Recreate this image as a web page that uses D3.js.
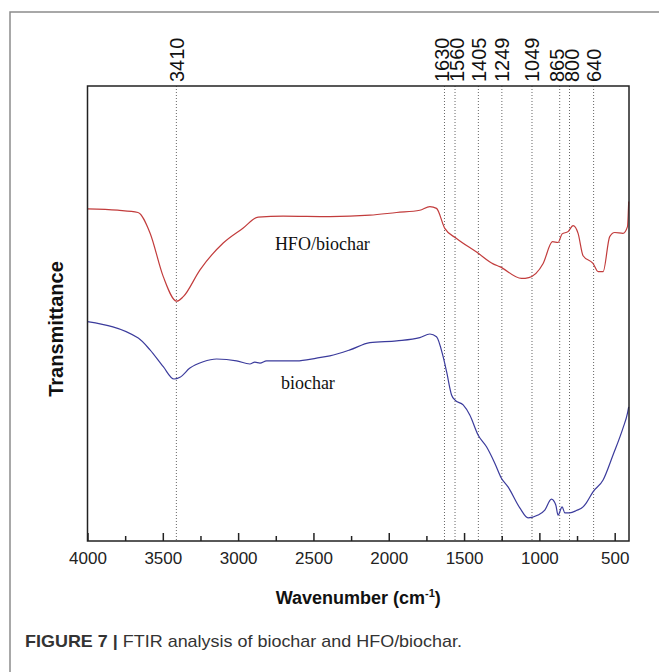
<!DOCTYPE html>
<html>
<head>
<meta charset="utf-8">
<script src="https://cdn.jsdelivr.net/npm/d3@7"></script>
<style>
  body { margin: 0; background: #fff; }
  svg { display: block; }
</style>
</head>
<body>
<svg id="chart" width="659" height="672"></svg>
<script>
// wavenumber (cm-1) and transmittance (a.u.)
const hfoWavenumber = [4000, 3800, 3665, 3585, 3497, 3408, 3364, 3253, 3099, 2966, 2867, 2701, 2391, 2125, 1948, 1794, 1727, 1683, 1628, 1550, 1417, 1307, 1263, 1119, 1070, 975, 913, 876, 849, 810, 776, 743, 710, 644, 610, 577, 533, 500, 445, 415, 407];
const hfoTransmittance = [73.0, 72.7, 72.2, 67.7, 58.1, 52.7, 53.7, 59.6, 65.5, 68.8, 71.2, 71.4, 71.3, 71.6, 72.2, 72.7, 73.5, 73.1, 68.7, 66.5, 63.5, 60.9, 60.3, 57.7, 57.9, 61.0, 65.8, 65.6, 67.5, 68.0, 69.3, 67.6, 62.7, 61.0, 59.2, 59.2, 66.9, 67.8, 67.6, 69.1, 74.6];

const biocharWavenumber = [4000, 3663, 3585, 3497, 3426, 3386, 3320, 3232, 3143, 3010, 2922, 2889, 2855, 2811, 2612, 2479, 2391, 2258, 2125, 1948, 1794, 1727, 1683, 1639, 1616, 1583, 1561, 1506, 1462, 1407, 1351, 1296, 1252, 1208, 1130, 1075, 1009, 964, 920, 891, 876, 849, 831, 798, 754, 710, 688, 644, 577, 511, 445, 415, 407];
const biocharTransmittance = [48.2, 44.6, 42.0, 38.3, 35.6, 36.0, 38.0, 39.4, 40.0, 39.6, 38.9, 39.3, 39.1, 39.6, 39.6, 40.2, 40.7, 42.0, 43.6, 44.0, 44.7, 45.5, 44.9, 40.5, 37.2, 32.1, 31.0, 29.9, 27.7, 23.3, 20.7, 17.1, 13.8, 11.9, 7.3, 5.1, 5.7, 6.8, 9.2, 7.9, 5.7, 7.5, 6.2, 6.2, 6.7, 7.5, 8.4, 10.8, 13.4, 18.9, 24.8, 28.1, 29.5];

const peaks = [3410, 1630, 1560, 1405, 1249, 1049, 865, 800, 640];
const majorTicks = [4000, 3500, 3000, 2500, 2000, 1500, 1000, 500];
const minorTicks = [3750, 3250, 2750, 2250, 1750, 1250, 750];

const seriesLabels = [
    { text: "HFO/biochar", wn: 2756, t: 64.0 },
    { text: "biochar", wn: 2716, t: 33.4 }
];

const margin = { left: 87.5, right: 30, top: 86, bottom: 131 };
const svg = d3.select("#chart");
const W = +svg.attr("width"), H = +svg.attr("height");
const width = W - margin.left - margin.right;
const height = H - margin.top - margin.bottom;

// grey figure frame (top and left edge visible)
svg.append("path")
    .attr("d", "M10," + H + "V12H" + W)
    .attr("fill", "none")
    .attr("stroke", "#8c8c8c")
    .attr("stroke-width", 1.5);

const chart = svg.append("g")
    .attr("transform", "translate(" + margin.left + "," + margin.top + ")");

const xScale = d3.scaleLinear()
    .domain([4000, 405])
    .range([0, width]);

const yScale = d3.scaleLinear()
    .domain([0, 100])
    .range([height, 0]);

// dotted peak markers
chart.selectAll(".peak")
    .data(peaks)
    .enter().append("line")
    .attr("class", "peak")
    .attr("x1", d => xScale(d))
    .attr("x2", d => xScale(d))
    .attr("y1", 0)
    .attr("y2", height)
    .attr("stroke", "#666")
    .attr("stroke-width", 1)
    .attr("stroke-dasharray", "1,2");

// spread the peak labels a bit so they don't overlap
const labelX = peaks.map(d => xScale(d));
for (let k = 0; k < 20; k++) {
    for (let i = 1; i < labelX.length; i++) {
        const gap = labelX[i] - labelX[i - 1];
        if (gap < 15) {
            const push = (15 - gap) / 2;
            labelX[i - 1] -= push;
            labelX[i] += push;
        }
    }
}

chart.selectAll(".peak-label")
    .data(peaks)
    .enter().append("text")
    .attr("class", "peak-label")
    .attr("transform", (d, i) => "translate(" + labelX[i] + "," + (-4) + ") rotate(-90)")
    .attr("dy", "0.36em")
    .attr("font-family", "Liberation Sans, Arial, sans-serif")
    .attr("font-size", 20)
    .attr("fill", "#111")
    .text(d => d);

// x pixels grow monotonically, so monotoneX keeps the flat parts flat
const line = d3.line()
    .x(d => xScale(d[0]))
    .y(d => yScale(d[1]))
    .curve(d3.curveMonotoneX);

chart.append("path")
    .datum(hfoWavenumber.map((w, i) => [w, hfoTransmittance[i]]))
    .attr("d", line)
    .attr("fill", "none")
    .attr("stroke", "#c23c3c")
    .attr("stroke-width", 1.2);

chart.append("path")
    .datum(biocharWavenumber.map((w, i) => [w, biocharTransmittance[i]]))
    .attr("d", line)
    .attr("fill", "none")
    .attr("stroke", "#3b3b9c")
    .attr("stroke-width", 1.2);

chart.selectAll(".series-label")
    .data(seriesLabels)
    .enter().append("text")
    .attr("x", d => xScale(d.wn))
    .attr("y", d => yScale(d.t))
    .attr("font-family", "Liberation Serif, Times New Roman, serif")
    .attr("font-size", 18)
    .attr("fill", "#111")
    .text(d => d.text);

// axes
const xAxis = chart.append("g")
    .attr("transform", "translate(0," + height + ")")
    .call(d3.axisBottom(xScale).tickValues(majorTicks).tickFormat(d3.format("d"))
        .tickSizeInner(-8).tickSizeOuter(0).tickPadding(11));

chart.append("g")
    .attr("transform", "translate(0," + height + ")")
    .call(d3.axisBottom(xScale).tickValues(minorTicks).tickSizeInner(-5).tickSizeOuter(0).tickFormat(""))
    .call(g => g.select(".domain").remove());

chart.selectAll(".tick line").attr("stroke", "#222").attr("stroke-width", 1.5);
xAxis.select(".domain").remove();
xAxis.selectAll("text")
    .attr("font-family", "Liberation Sans, Arial, sans-serif")
    .attr("font-size", 17)
    .attr("fill", "#222");

// plot frame
chart.append("rect")
    .attr("width", width)
    .attr("height", height)
    .attr("fill", "none")
    .attr("stroke", "#222")
    .attr("stroke-width", 1.5);

// axis titles
const xTitle = svg.append("text")
    .attr("x", margin.left + width / 2)
    .attr("y", 604)
    .attr("text-anchor", "middle")
    .attr("font-family", "Liberation Sans, Arial, sans-serif")
    .attr("font-weight", "bold")
    .attr("font-size", 18)
    .attr("fill", "#111");
xTitle.append("tspan").text("Wavenumber (cm");
xTitle.append("tspan").attr("dy", -7).attr("font-size", 11).text("-1");
xTitle.append("tspan").attr("dy", 7).text(")");

svg.append("text")
    .attr("transform", "translate(63,329) rotate(-90)")
    .attr("text-anchor", "middle")
    .attr("font-family", "Liberation Sans, Arial, sans-serif")
    .attr("font-weight", "bold")
    .attr("font-size", 20)
    .attr("fill", "#111")
    .text("Transmittance");

// caption
const caption = svg.append("text")
    .attr("x", 25)
    .attr("y", 647)
    .attr("font-family", "Liberation Sans, Arial, sans-serif")
    .attr("font-size", 17)
    .attr("fill", "#333")
    .attr("textLength", 437)
    .attr("lengthAdjust", "spacingAndGlyphs");
caption.append("tspan").attr("font-weight", "bold").text("FIGURE 7 | ");
caption.append("tspan").text("FTIR analysis of biochar and HFO/biochar.");
</script>
</body>
</html>
